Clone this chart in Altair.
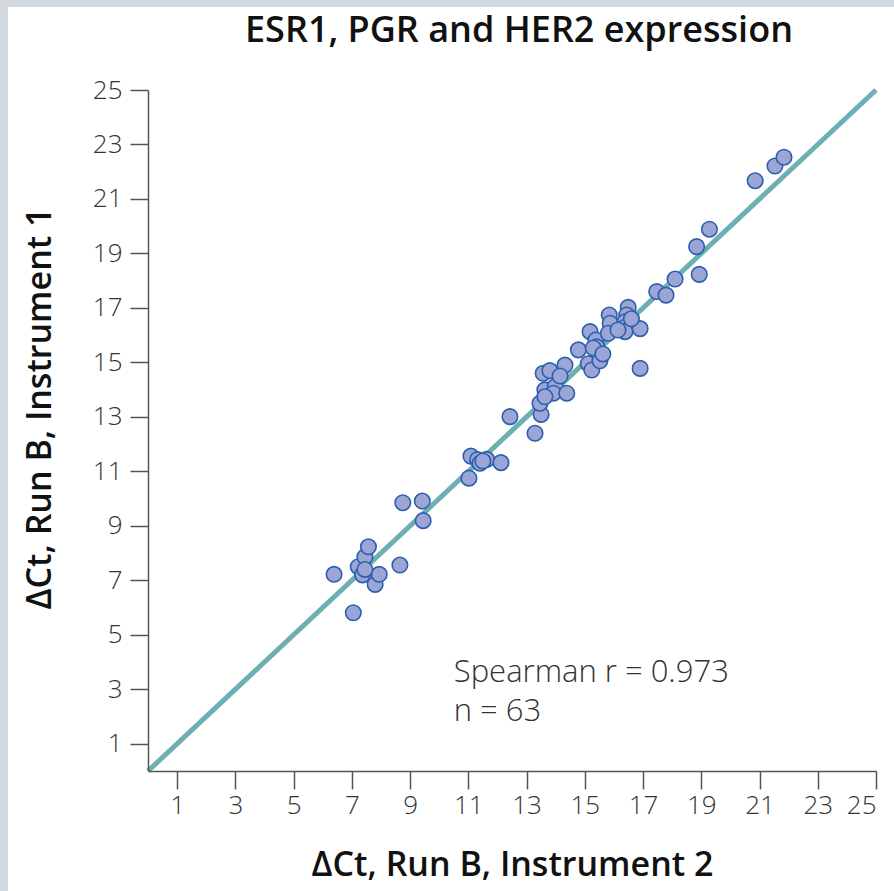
import altair as alt
import pandas as pd

# Data
instrument2 = [6.39, 7.05, 7.22, 7.37, 7.45, 7.57, 7.80, 7.94, 8.65, 8.75,
               9.42, 9.45, 11.02, 11.09, 11.32, 11.40, 11.63, 12.12, 12.43, 13.29,
               13.50, 13.46, 13.63, 13.57, 13.80, 13.98, 13.92, 14.38, 14.32, 14.78,
               15.18, 15.38, 15.41, 15.12, 15.24, 15.52, 15.84, 15.87, 15.81, 16.49,
               16.44, 16.38, 16.38, 16.38, 16.90, 16.90, 17.47, 17.79, 18.10, 18.93,
               18.84, 19.28, 20.85, 21.53, 21.84, 13.63, 15.29, 16.14, 15.62, 11.50,
               7.45, 14.15, 16.60]
instrument1 = [7.22, 5.81, 7.50, 7.20, 7.86, 8.23, 6.85, 7.22, 7.56, 9.85,
               9.91, 9.19, 10.75, 11.56, 11.43, 11.30, 11.44, 11.32, 13.01, 12.40,
               13.09, 13.50, 13.99, 14.60, 14.70, 14.11, 13.87, 13.87, 14.90, 15.46,
               16.13, 15.82, 15.57, 14.95, 14.72, 15.06, 16.74, 16.44, 16.07, 17.02,
               16.74, 16.49, 16.29, 16.13, 16.24, 14.78, 17.60, 17.47, 18.06, 18.23,
               19.25, 19.89, 21.67, 22.21, 22.53, 13.74, 15.53, 16.19, 15.31, 11.38,
               7.40, 14.50, 16.60]
identity_line = [0, 25]
tick_values = list(range(1, 26, 2))
annotation_lines = ["Spearman r = 0.973", "n = 63"]
annotation_x = [10.5, 10.5]
annotation_y = [3.6, 2.15]

pts = pd.DataFrame({"x": instrument2, "y": instrument1})
line_df = pd.DataFrame({"x": identity_line, "y": identity_line})
ann_df = pd.DataFrame({"t": annotation_lines, "x": annotation_x, "y": annotation_y})

FONT = "Open Sans"
xscale = alt.Scale(domain=[0, 25], nice=False, zero=False)
yscale = alt.Scale(domain=[0, 25], nice=False, zero=False)

axis_common = dict(
    values=tick_values, grid=False, domainColor="#555555", domainWidth=1.5,
    tickColor="#555555", tickWidth=1.5, tickSize=18, labelFont=FONT,
    labelFontSize=26, labelFontWeight=300, labelColor="#333333",
    titleFont=FONT, titleFontSize=34, titleFontWeight=600,
    titleColor="#111111", zindex=1,
)

# white panel behind the chart (background decoration)
panel = alt.Chart(pd.DataFrame({"a": [0]})).mark_rect(color="white").encode(
    x=alt.value(-140), x2=alt.value(760), y=alt.value(-83), y2=alt.value(820)
)

line = alt.Chart(line_df).mark_line(color="#6db0b3", strokeWidth=5, clip=False).encode(
    x=alt.X("x:Q", scale=xscale,
            axis=alt.Axis(title="ΔCt, Run B, Instrument 2", labelPadding=3,
                          titlePadding=30, **axis_common)),
    y=alt.Y("y:Q", scale=yscale,
            axis=alt.Axis(title="ΔCt, Run B, Instrument 1", labelPadding=8,
                          titlePadding=35, titleY=318, **axis_common)),
)

points = alt.Chart(pts).mark_point(
    filled=True, shape="circle", size=240, fill="#9ba6d7", fillOpacity=1,
    stroke="#2d5fae", strokeWidth=1.6, opacity=1
).encode(x=alt.X("x:Q", scale=xscale), y=alt.Y("y:Q", scale=yscale))

text = alt.Chart(ann_df).mark_text(
    align="left", baseline="middle", font=FONT, fontSize=31, fontWeight=300,
    color="#333333"
).encode(x=alt.X("x:Q", scale=xscale), y=alt.Y("y:Q", scale=yscale), text="t:N")

chart = alt.layer(panel, line, points, text).properties(
    width=728, height=681,
    autosize=alt.AutoSizeParams(type="none"),
    padding={"left": 148, "top": 90, "right": 18, "bottom": 120},
    background="#d3d7de",
    title=alt.TitleParams("ESR1, PGR and HER2 expression", font=FONT, fontSize=36,
                          fontWeight=600, color="#111111", anchor="middle",
                          frame="group", dx=7, offset=-43),
).configure_view(stroke=None)

chart.save("out.html", embed_options={"renderer": "svg", "actions": False})
